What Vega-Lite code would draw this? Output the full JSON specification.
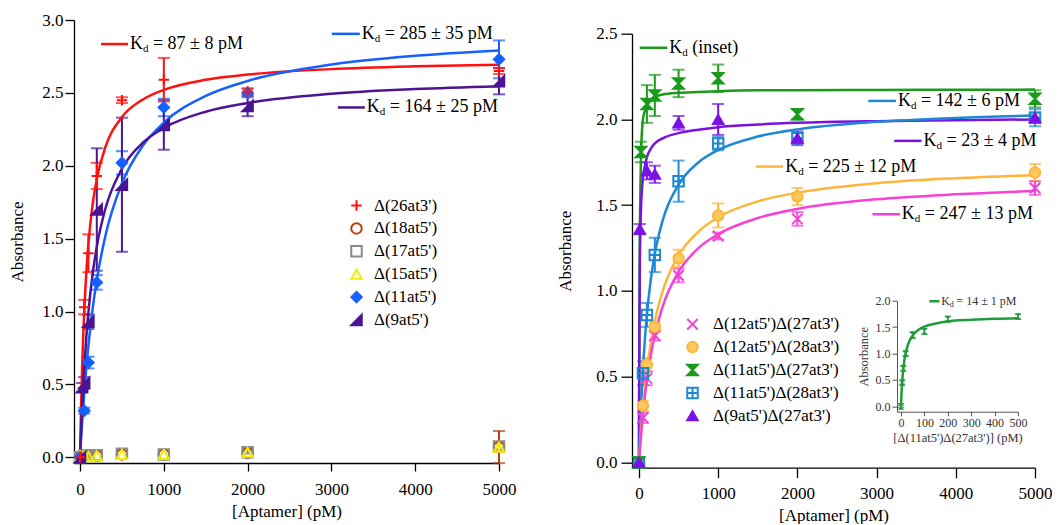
{
  "$schema": "https://vega.github.io/schema/vega-lite/v6.json",
  "padding": {"left": 8, "top": 11, "right": 0, "bottom": 0},
  "spacing": 40,
  "config": {
    "font": "Liberation Serif",
    "view": {"stroke": null},
    "axis": {"grid": false, "domainColor": "#000", "tickColor": "#000", "labelColor": "#000", "titleColor": "#000", "labelFontSize": 17, "titleFontSize": 17, "titleFontWeight": "normal", "domainWidth": 1.3, "tickWidth": 1.3, "labelFont": "Liberation Serif", "titleFont": "Liberation Serif", "labelFlush": false, "labelOverlap": false},
    "text": {"font": "Liberation Serif", "color": "#000"},
    "legend": {"labelFont": "Liberation Serif", "labelFontSize": 17, "labelColor": "#000", "symbolStrokeWidth": 2, "symbolSize": 110, "padding": 0, "labelOffset": 14, "rowPadding": 3.9}
  },
  "datasets": {
    "leftFit": [
      {"series": "Δ(26at3')", "x": 0, "y": 0}, {"series": "Δ(26at3')", "x": 10, "y": 0.282}, {"series": "Δ(26at3')", "x": 25, "y": 0.612}, {"series": "Δ(26at3')", "x": 50, "y": 1.0}, {"series": "Δ(26at3')", "x": 75, "y": 1.269}, {"series": "Δ(26at3')", "x": 100, "y": 1.465}, {"series": "Δ(26at3')", "x": 150, "y": 1.734}, {"series": "Δ(26at3')", "x": 200, "y": 1.909}, {"series": "Δ(26at3')", "x": 300, "y": 2.124}, {"series": "Δ(26at3')", "x": 500, "y": 2.334}, {"series": "Δ(26at3')", "x": 750, "y": 2.455}, {"series": "Δ(26at3')", "x": 1000, "y": 2.521}, {"series": "Δ(26at3')", "x": 1500, "y": 2.59}, {"series": "Δ(26at3')", "x": 2000, "y": 2.626}, {"series": "Δ(26at3')", "x": 3000, "y": 2.663}, {"series": "Δ(26at3')", "x": 4000, "y": 2.682}, {"series": "Δ(26at3')", "x": 5000, "y": 2.693},
      {"series": "Δ(11at5')", "x": 0, "y": 0}, {"series": "Δ(11at5')", "x": 10, "y": 0.1}, {"series": "Δ(11at5')", "x": 25, "y": 0.238}, {"series": "Δ(11at5')", "x": 50, "y": 0.44}, {"series": "Δ(11at5')", "x": 75, "y": 0.615}, {"series": "Δ(11at5')", "x": 100, "y": 0.766}, {"series": "Δ(11at5')", "x": 150, "y": 1.017}, {"series": "Δ(11at5')", "x": 200, "y": 1.216}, {"series": "Δ(11at5')", "x": 300, "y": 1.513}, {"series": "Δ(11at5')", "x": 500, "y": 1.879}, {"series": "Δ(11at5')", "x": 750, "y": 2.138}, {"series": "Δ(11at5')", "x": 1000, "y": 2.296}, {"series": "Δ(11at5')", "x": 1500, "y": 2.479}, {"series": "Δ(11at5')", "x": 2000, "y": 2.582}, {"series": "Δ(11at5')", "x": 3000, "y": 2.694}, {"series": "Δ(11at5')", "x": 4000, "y": 2.754}, {"series": "Δ(11at5')", "x": 5000, "y": 2.791},
      {"series": "Δ(9at5')", "x": 0, "y": 0}, {"series": "Δ(9at5')", "x": 10, "y": 0.151}, {"series": "Δ(9at5')", "x": 25, "y": 0.348}, {"series": "Δ(9at5')", "x": 50, "y": 0.614}, {"series": "Δ(9at5')", "x": 75, "y": 0.825}, {"series": "Δ(9at5')", "x": 100, "y": 0.996}, {"series": "Δ(9at5')", "x": 150, "y": 1.256}, {"series": "Δ(9at5')", "x": 200, "y": 1.445}, {"series": "Δ(9at5')", "x": 300, "y": 1.7}, {"series": "Δ(9at5')", "x": 500, "y": 1.98}, {"series": "Δ(9at5')", "x": 750, "y": 2.158}, {"series": "Δ(9at5')", "x": 1000, "y": 2.259}, {"series": "Δ(9at5')", "x": 1500, "y": 2.371}, {"series": "Δ(9at5')", "x": 2000, "y": 2.431}, {"series": "Δ(9at5')", "x": 3000, "y": 2.494}, {"series": "Δ(9at5')", "x": 4000, "y": 2.526}, {"series": "Δ(9at5')", "x": 5000, "y": 2.546}
    ],
    "leftPts": [
      {"series": "Δ(18at5')", "x": 0, "y": 0, "err": 0}, {"series": "Δ(18at5')", "x": 50, "y": 0.01, "err": 0}, {"series": "Δ(18at5')", "x": 100, "y": 0.01, "err": 0}, {"series": "Δ(18at5')", "x": 200, "y": 0.01, "err": 0}, {"series": "Δ(18at5')", "x": 500, "y": 0.02, "err": 0}, {"series": "Δ(18at5')", "x": 1000, "y": 0.02, "err": 0}, {"series": "Δ(18at5')", "x": 2000, "y": 0.03, "err": 0}, {"series": "Δ(18at5')", "x": 5000, "y": 0.07, "err": 0.11},
      {"series": "Δ(17at5')", "x": 0, "y": 0, "err": 0}, {"series": "Δ(17at5')", "x": 50, "y": 0.01, "err": 0}, {"series": "Δ(17at5')", "x": 100, "y": 0.015, "err": 0}, {"series": "Δ(17at5')", "x": 200, "y": 0.015, "err": 0}, {"series": "Δ(17at5')", "x": 500, "y": 0.025, "err": 0}, {"series": "Δ(17at5')", "x": 1000, "y": 0.02, "err": 0}, {"series": "Δ(17at5')", "x": 2000, "y": 0.035, "err": 0.01}, {"series": "Δ(17at5')", "x": 5000, "y": 0.075, "err": 0.02},
      {"series": "Δ(15at5')", "x": 0, "y": 0.01, "err": 0}, {"series": "Δ(15at5')", "x": 50, "y": 0.01, "err": 0}, {"series": "Δ(15at5')", "x": 100, "y": 0.005, "err": 0}, {"series": "Δ(15at5')", "x": 200, "y": 0.01, "err": 0}, {"series": "Δ(15at5')", "x": 500, "y": 0.02, "err": 0}, {"series": "Δ(15at5')", "x": 1000, "y": 0.02, "err": 0}, {"series": "Δ(15at5')", "x": 2000, "y": 0.035, "err": 0}, {"series": "Δ(15at5')", "x": 5000, "y": 0.07, "err": 0.03},
      {"series": "Δ(11at5')", "x": 0, "y": 0, "err": 0}, {"series": "Δ(11at5')", "x": 50, "y": 0.32, "err": 0.02}, {"series": "Δ(11at5')", "x": 100, "y": 0.65, "err": 0.04}, {"series": "Δ(11at5')", "x": 200, "y": 1.2, "err": 0.05}, {"series": "Δ(11at5')", "x": 500, "y": 2.02, "err": 0.08}, {"series": "Δ(11at5')", "x": 1000, "y": 2.4, "err": 0.06}, {"series": "Δ(11at5')", "x": 2000, "y": 2.5, "err": 0.03}, {"series": "Δ(11at5')", "x": 5000, "y": 2.73, "err": 0.13},
      {"series": "Δ(9at5')", "x": 0, "y": 0, "err": 0}, {"series": "Δ(9at5')", "x": 25, "y": 0.48, "err": 0.03}, {"series": "Δ(9at5')", "x": 50, "y": 0.51, "err": 0.04}, {"series": "Δ(9at5')", "x": 100, "y": 0.93, "err": 0.05}, {"series": "Δ(9at5')", "x": 200, "y": 1.7, "err": 0.42}, {"series": "Δ(9at5')", "x": 500, "y": 1.87, "err": 0.46}, {"series": "Δ(9at5')", "x": 1000, "y": 2.28, "err": 0.17}, {"series": "Δ(9at5')", "x": 2000, "y": 2.41, "err": 0.07}, {"series": "Δ(9at5')", "x": 5000, "y": 2.58, "err": 0.09},
      {"series": "Δ(26at3')", "x": 0, "y": 0, "err": 0}, {"series": "Δ(26at3')", "x": 50, "y": 1.03, "err": 0.05}, {"series": "Δ(26at3')", "x": 100, "y": 1.4, "err": 0.13}, {"series": "Δ(26at3')", "x": 200, "y": 1.93, "err": 0.09}, {"series": "Δ(26at3')", "x": 500, "y": 2.45, "err": 0.02}, {"series": "Δ(26at3')", "x": 1000, "y": 2.59, "err": 0.15}, {"series": "Δ(26at3')", "x": 2000, "y": 2.51, "err": 0.02}, {"series": "Δ(26at3')", "x": 5000, "y": 2.65, "err": 0.02}
    ],
    "leftAnn": [
      {"series": "Δ(26at3')", "x1": 250, "x2": 572, "y": 2.835, "label": "= 87 ± 8 pM"},
      {"series": "Δ(11at5')", "x1": 3005, "x2": 3339, "y": 2.905, "label": "= 285 ± 35 pM"},
      {"series": "Δ(9at5')", "x1": 3077, "x2": 3399, "y": 2.4, "label": "= 164 ± 25 pM"}
    ],
    "rightFit": [
      {"series": "Δ(11at5')Δ(27at3')", "x": 0, "y": 0}, {"series": "Δ(11at5')Δ(27at3')", "x": 5, "y": 0.8}, {"series": "Δ(11at5')Δ(27at3')", "x": 10, "y": 1.25}, {"series": "Δ(11at5')Δ(27at3')", "x": 20, "y": 1.65}, {"series": "Δ(11at5')Δ(27at3')", "x": 30, "y": 1.85}, {"series": "Δ(11at5')Δ(27at3')", "x": 50, "y": 2.0}, {"series": "Δ(11at5')Δ(27at3')", "x": 75, "y": 2.05}, {"series": "Δ(11at5')Δ(27at3')", "x": 100, "y": 2.08}, {"series": "Δ(11at5')Δ(27at3')", "x": 150, "y": 2.11}, {"series": "Δ(11at5')Δ(27at3')", "x": 200, "y": 2.13}, {"series": "Δ(11at5')Δ(27at3')", "x": 300, "y": 2.145}, {"series": "Δ(11at5')Δ(27at3')", "x": 500, "y": 2.155}, {"series": "Δ(11at5')Δ(27at3')", "x": 750, "y": 2.16}, {"series": "Δ(11at5')Δ(27at3')", "x": 1000, "y": 2.165}, {"series": "Δ(11at5')Δ(27at3')", "x": 1500, "y": 2.17}, {"series": "Δ(11at5')Δ(27at3')", "x": 2000, "y": 2.17}, {"series": "Δ(11at5')Δ(27at3')", "x": 3000, "y": 2.172}, {"series": "Δ(11at5')Δ(27at3')", "x": 4000, "y": 2.173}, {"series": "Δ(11at5')Δ(27at3')", "x": 5000, "y": 2.174},
      {"series": "Δ(9at5')Δ(27at3')", "x": 0, "y": 0}, {"series": "Δ(9at5')Δ(27at3')", "x": 5, "y": 0.7}, {"series": "Δ(9at5')Δ(27at3')", "x": 10, "y": 1.1}, {"series": "Δ(9at5')Δ(27at3')", "x": 20, "y": 1.4}, {"series": "Δ(9at5')Δ(27at3')", "x": 30, "y": 1.53}, {"series": "Δ(9at5')Δ(27at3')", "x": 50, "y": 1.66}, {"series": "Δ(9at5')Δ(27at3')", "x": 75, "y": 1.73}, {"series": "Δ(9at5')Δ(27at3')", "x": 100, "y": 1.78}, {"series": "Δ(9at5')Δ(27at3')", "x": 150, "y": 1.83}, {"series": "Δ(9at5')Δ(27at3')", "x": 200, "y": 1.86}, {"series": "Δ(9at5')Δ(27at3')", "x": 300, "y": 1.89}, {"series": "Δ(9at5')Δ(27at3')", "x": 500, "y": 1.92}, {"series": "Δ(9at5')Δ(27at3')", "x": 750, "y": 1.94}, {"series": "Δ(9at5')Δ(27at3')", "x": 1000, "y": 1.955}, {"series": "Δ(9at5')Δ(27at3')", "x": 1500, "y": 1.97}, {"series": "Δ(9at5')Δ(27at3')", "x": 2000, "y": 1.98}, {"series": "Δ(9at5')Δ(27at3')", "x": 3000, "y": 1.99}, {"series": "Δ(9at5')Δ(27at3')", "x": 4000, "y": 1.995}, {"series": "Δ(9at5')Δ(27at3')", "x": 5000, "y": 2.0},
      {"series": "Δ(11at5')Δ(28at3')", "x": 0, "y": 0}, {"series": "Δ(11at5')Δ(28at3')", "x": 5, "y": 0.071}, {"series": "Δ(11at5')Δ(28at3')", "x": 10, "y": 0.137}, {"series": "Δ(11at5')Δ(28at3')", "x": 20, "y": 0.257}, {"series": "Δ(11at5')Δ(28at3')", "x": 30, "y": 0.363}, {"series": "Δ(11at5')Δ(28at3')", "x": 50, "y": 0.542}, {"series": "Δ(11at5')Δ(28at3')", "x": 75, "y": 0.719}, {"series": "Δ(11at5')Δ(28at3')", "x": 100, "y": 0.86}, {"series": "Δ(11at5')Δ(28at3')", "x": 150, "y": 1.068}, {"series": "Δ(11at5')Δ(28at3')", "x": 200, "y": 1.216}, {"series": "Δ(11at5')Δ(28at3')", "x": 300, "y": 1.412}, {"series": "Δ(11at5')Δ(28at3')", "x": 500, "y": 1.62}, {"series": "Δ(11at5')Δ(28at3')", "x": 750, "y": 1.749}, {"series": "Δ(11at5')Δ(28at3')", "x": 1000, "y": 1.821}, {"series": "Δ(11at5')Δ(28at3')", "x": 1500, "y": 1.9}, {"series": "Δ(11at5')Δ(28at3')", "x": 2000, "y": 1.942}, {"series": "Δ(11at5')Δ(28at3')", "x": 3000, "y": 1.986}, {"series": "Δ(11at5')Δ(28at3')", "x": 4000, "y": 2.009}, {"series": "Δ(11at5')Δ(28at3')", "x": 5000, "y": 2.023},
      {"series": "Δ(12at5')Δ(28at3')", "x": 0, "y": 0}, {"series": "Δ(12at5')Δ(28at3')", "x": 5, "y": 0.038}, {"series": "Δ(12at5')Δ(28at3')", "x": 10, "y": 0.074}, {"series": "Δ(12at5')Δ(28at3')", "x": 20, "y": 0.143}, {"series": "Δ(12at5')Δ(28at3')", "x": 30, "y": 0.206}, {"series": "Δ(12at5')Δ(28at3')", "x": 50, "y": 0.318}, {"series": "Δ(12at5')Δ(28at3')", "x": 75, "y": 0.4375}, {"series": "Δ(12at5')Δ(28at3')", "x": 100, "y": 0.538}, {"series": "Δ(12at5')Δ(28at3')", "x": 150, "y": 0.7}, {"series": "Δ(12at5')Δ(28at3')", "x": 200, "y": 0.824}, {"series": "Δ(12at5')Δ(28at3')", "x": 300, "y": 1.0}, {"series": "Δ(12at5')Δ(28at3')", "x": 500, "y": 1.207}, {"series": "Δ(12at5')Δ(28at3')", "x": 750, "y": 1.346}, {"series": "Δ(12at5')Δ(28at3')", "x": 1000, "y": 1.429}, {"series": "Δ(12at5')Δ(28at3')", "x": 1500, "y": 1.522}, {"series": "Δ(12at5')Δ(28at3')", "x": 2000, "y": 1.573}, {"series": "Δ(12at5')Δ(28at3')", "x": 3000, "y": 1.628}, {"series": "Δ(12at5')Δ(28at3')", "x": 4000, "y": 1.657}, {"series": "Δ(12at5')Δ(28at3')", "x": 5000, "y": 1.675},
      {"series": "Δ(12at5')Δ(27at3')", "x": 0, "y": 0}, {"series": "Δ(12at5')Δ(27at3')", "x": 5, "y": 0.033}, {"series": "Δ(12at5')Δ(27at3')", "x": 10, "y": 0.065}, {"series": "Δ(12at5')Δ(27at3')", "x": 20, "y": 0.124}, {"series": "Δ(12at5')Δ(27at3')", "x": 30, "y": 0.18}, {"series": "Δ(12at5')Δ(27at3')", "x": 50, "y": 0.279}, {"series": "Δ(12at5')Δ(27at3')", "x": 75, "y": 0.387}, {"series": "Δ(12at5')Δ(27at3')", "x": 100, "y": 0.478}, {"series": "Δ(12at5')Δ(27at3')", "x": 150, "y": 0.627}, {"series": "Δ(12at5')Δ(27at3')", "x": 200, "y": 0.743}, {"series": "Δ(12at5')Δ(27at3')", "x": 300, "y": 0.91}, {"series": "Δ(12at5')Δ(27at3')", "x": 500, "y": 1.111}, {"series": "Δ(12at5')Δ(27at3')", "x": 750, "y": 1.249}, {"series": "Δ(12at5')Δ(27at3')", "x": 1000, "y": 1.331}, {"series": "Δ(12at5')Δ(27at3')", "x": 1500, "y": 1.425}, {"series": "Δ(12at5')Δ(27at3')", "x": 2000, "y": 1.478}, {"series": "Δ(12at5')Δ(27at3')", "x": 3000, "y": 1.534}, {"series": "Δ(12at5')Δ(27at3')", "x": 4000, "y": 1.563}, {"series": "Δ(12at5')Δ(27at3')", "x": 5000, "y": 1.582}
    ],
    "rightPts": [
      {"series": "Δ(12at5')Δ(27at3')", "x": 0, "y": 0, "err": 0}, {"series": "Δ(12at5')Δ(27at3')", "x": 50, "y": 0.26, "err": 0.03}, {"series": "Δ(12at5')Δ(27at3')", "x": 100, "y": 0.49, "err": 0.04}, {"series": "Δ(12at5')Δ(27at3')", "x": 200, "y": 0.74, "err": 0.03}, {"series": "Δ(12at5')Δ(27at3')", "x": 500, "y": 1.09, "err": 0.04}, {"series": "Δ(12at5')Δ(27at3')", "x": 1000, "y": 1.32, "err": 0.02}, {"series": "Δ(12at5')Δ(27at3')", "x": 2000, "y": 1.42, "err": 0.04}, {"series": "Δ(12at5')Δ(27at3')", "x": 5000, "y": 1.6, "err": 0.04},
      {"series": "Δ(12at5')Δ(28at3')", "x": 0, "y": 0, "err": 0}, {"series": "Δ(12at5')Δ(28at3')", "x": 50, "y": 0.33, "err": 0.03}, {"series": "Δ(12at5')Δ(28at3')", "x": 100, "y": 0.57, "err": 0.04}, {"series": "Δ(12at5')Δ(28at3')", "x": 200, "y": 0.79, "err": 0.03}, {"series": "Δ(12at5')Δ(28at3')", "x": 500, "y": 1.19, "err": 0.05}, {"series": "Δ(12at5')Δ(28at3')", "x": 1000, "y": 1.44, "err": 0.07}, {"series": "Δ(12at5')Δ(28at3')", "x": 2000, "y": 1.55, "err": 0.05}, {"series": "Δ(12at5')Δ(28at3')", "x": 5000, "y": 1.69, "err": 0.05},
      {"series": "Δ(11at5')Δ(28at3')", "x": 0, "y": 0, "err": 0}, {"series": "Δ(11at5')Δ(28at3')", "x": 50, "y": 0.52, "err": 0.07}, {"series": "Δ(11at5')Δ(28at3')", "x": 100, "y": 0.86, "err": 0.07}, {"series": "Δ(11at5')Δ(28at3')", "x": 200, "y": 1.21, "err": 0.1}, {"series": "Δ(11at5')Δ(28at3')", "x": 500, "y": 1.64, "err": 0.12}, {"series": "Δ(11at5')Δ(28at3')", "x": 1000, "y": 1.86, "err": 0.04}, {"series": "Δ(11at5')Δ(28at3')", "x": 2000, "y": 1.89, "err": 0.03}, {"series": "Δ(11at5')Δ(28at3')", "x": 5000, "y": 2.01, "err": 0.05},
      {"series": "Δ(11at5')Δ(27at3')", "x": 0, "y": 0, "err": 0}, {"series": "Δ(11at5')Δ(27at3')", "x": 25, "y": 1.81, "err": 0.06}, {"series": "Δ(11at5')Δ(27at3')", "x": 100, "y": 2.09, "err": 0.11}, {"series": "Δ(11at5')Δ(27at3')", "x": 200, "y": 2.14, "err": 0.12}, {"series": "Δ(11at5')Δ(27at3')", "x": 500, "y": 2.21, "err": 0.08}, {"series": "Δ(11at5')Δ(27at3')", "x": 1000, "y": 2.24, "err": 0.08}, {"series": "Δ(11at5')Δ(27at3')", "x": 2000, "y": 2.03, "err": 0.03}, {"series": "Δ(11at5')Δ(27at3')", "x": 5000, "y": 2.12, "err": 0.05},
      {"series": "Δ(9at5')Δ(27at3')", "x": 0, "y": 0, "err": 0}, {"series": "Δ(9at5')Δ(27at3')", "x": 10, "y": 1.36, "err": 0.03}, {"series": "Δ(9at5')Δ(27at3')", "x": 100, "y": 1.7, "err": 0.05}, {"series": "Δ(9at5')Δ(27at3')", "x": 200, "y": 1.68, "err": 0.05}, {"series": "Δ(9at5')Δ(27at3')", "x": 500, "y": 1.98, "err": 0.04}, {"series": "Δ(9at5')Δ(27at3')", "x": 1000, "y": 2.0, "err": 0.09}, {"series": "Δ(9at5')Δ(27at3')", "x": 2000, "y": 1.89, "err": 0.04}, {"series": "Δ(9at5')Δ(27at3')", "x": 5000, "y": 2.01, "err": 0.03}
    ],
    "rightAnn": [
      {"series": "Δ(11at5')Δ(27at3')", "x1": 9, "x2": 358, "y": 2.418, "label": "(inset)"},
      {"series": "Δ(11at5')Δ(28at3')", "x1": 2894, "x2": 3244, "y": 2.108, "label": "= 142 ± 6 pM"},
      {"series": "Δ(9at5')Δ(27at3')", "x1": 3222, "x2": 3568, "y": 1.875, "label": "= 23 ± 4 pM"},
      {"series": "Δ(12at5')Δ(28at3')", "x1": 1475, "x2": 1820, "y": 1.725, "label": "= 225 ± 12 pM"},
      {"series": "Δ(12at5')Δ(27at3')", "x1": 2949, "x2": 3294, "y": 1.447, "label": "= 247 ± 13 pM"}
    ],
    "insetFit": [
      {"x": 0, "y": 0}, {"x": 2, "y": 0.21}, {"x": 5, "y": 0.45}, {"x": 10, "y": 0.72}, {"x": 15, "y": 0.89}, {"x": 20, "y": 1.01}, {"x": 30, "y": 1.17}, {"x": 50, "y": 1.34}, {"x": 75, "y": 1.45}, {"x": 100, "y": 1.51}, {"x": 150, "y": 1.57}, {"x": 200, "y": 1.61}, {"x": 300, "y": 1.64}, {"x": 400, "y": 1.66}, {"x": 500, "y": 1.67}
    ],
    "insetPts": [
      {"x": 0, "y": 0, "err": 0.02}, {"x": 5, "y": 0.45, "err": 0.03}, {"x": 10, "y": 0.72, "err": 0.04}, {"x": 20, "y": 1.0, "err": 0.04}, {"x": 50, "y": 1.35, "err": 0.06}, {"x": 100, "y": 1.42, "err": 0.05}, {"x": 200, "y": 1.65, "err": 0.05}, {"x": 500, "y": 1.7, "err": 0.04}
    ],
    "insetAnn": [
      {"x1": 121, "x2": 164, "y": 1.99, "label": "= 14 ± 1 pM"}
    ]
  },
  "hconcat": [
    {
      "width": 425,
      "height": 443,
      "layer": [
        {
          "data": {"name": "leftPts"},
          "transform": [{"filter": "datum.err > 0"}],
          "mark": {"type": "errorbar", "ticks": {"size": 12}, "thickness": 2},
          "encoding": {
            "x": {"field": "x", "type": "quantitative", "title": "[Aptamer] (pM)", "scale": {"domain": [-72, 5000], "nice": false, "zero": false}, "axis": {"values": [0, 1000, 2000, 3000, 4000, 5000], "format": "d", "tickSize": 8, "labelPadding": 10, "titlePadding": 6}},
            "y": {"field": "y", "type": "quantitative", "title": "Absorbance", "scale": {"domain": [-0.039, 3.0], "nice": false, "zero": false}, "axis": {"values": [0, 0.5, 1, 1.5, 2, 2.5, 3], "format": ".1f", "tickSize": 9, "labelPadding": 2, "titlePadding": 15}},
            "yError": {"field": "err"},
            "color": {"field": "series", "type": "nominal", "legend": null, "scale": {"domain": ["Δ(9at5')", "Δ(11at5')", "Δ(15at5')", "Δ(17at5')", "Δ(18at5')", "Δ(26at3')"], "range": ["#4a1494", "#1560ff", "#f2ee00", "#8a8a8a", "#b5400f", "#ff1010"]}}
          }
        },
        {
          "data": {"name": "leftFit"},
          "mark": {"type": "line", "strokeWidth": 2.5, "interpolate": "monotone"},
          "encoding": {
            "x": {"field": "x", "type": "quantitative", "title": "[Aptamer] (pM)"},
            "y": {"field": "y", "type": "quantitative", "title": "Absorbance"},
            "color": {"field": "series", "type": "nominal", "legend": null}
          }
        },
        {
          "data": {"name": "leftPts"},
          "mark": {"type": "point", "size": 110, "strokeWidth": 2, "opacity": 1},
          "encoding": {
            "x": {"field": "x", "type": "quantitative", "title": "[Aptamer] (pM)"},
            "y": {"field": "y", "type": "quantitative", "title": "Absorbance"},
            "stroke": {"field": "series", "type": "nominal", "scale": {"domain": ["Δ(26at3')", "Δ(18at5')", "Δ(17at5')", "Δ(15at5')", "Δ(11at5')", "Δ(9at5')"], "range": ["#ff1010", "#b5400f", "#8a8a8a", "#f2ee00", "#1560ff", "#4a1494"]}, "legend": {"title": null, "orient": "none", "legendX": 274, "legendY": 177, "labelOffset": 9}},
            "fill": {"field": "series", "type": "nominal", "scale": {"domain": ["Δ(26at3')", "Δ(18at5')", "Δ(17at5')", "Δ(15at5')", "Δ(11at5')", "Δ(9at5')"], "range": ["transparent", "transparent", "transparent", "transparent", "#1560ff", "#4a1494"]}, "legend": {"title": null, "orient": "none", "legendX": 274, "legendY": 177, "labelOffset": 9}},
            "shape": {"field": "series", "type": "nominal", "scale": {"domain": ["Δ(26at3')", "Δ(18at5')", "Δ(17at5')", "Δ(15at5')", "Δ(11at5')", "Δ(9at5')"], "range": ["M-1,0L1,0M0,-1L0,1", "circle", "square", "triangle-up", "diamond", "M1,-1L1,1L-1,1Z"]}, "legend": {"title": null, "orient": "none", "legendX": 274, "legendY": 177, "labelOffset": 9}}
          }
        },
        {
          "data": {"name": "leftAnn"},
          "mark": {"type": "rule", "strokeWidth": 2.5},
          "encoding": {
            "x": {"field": "x1", "type": "quantitative", "title": "[Aptamer] (pM)"},
            "x2": {"field": "x2"},
            "y": {"field": "y", "type": "quantitative", "title": "Absorbance"},
            "color": {"field": "series", "type": "nominal", "legend": null}
          }
        },
        {
          "data": {"name": "leftAnn"},
          "mark": {"type": "text", "text": "K", "align": "left", "baseline": "middle", "dx": 2, "fontSize": 18},
          "encoding": {
            "x": {"field": "x2", "type": "quantitative", "title": "[Aptamer] (pM)"},
            "y": {"field": "y", "type": "quantitative", "title": "Absorbance"}
          }
        },
        {
          "data": {"name": "leftAnn"},
          "mark": {"type": "text", "text": "d", "align": "left", "baseline": "middle", "dx": 15, "dy": 5, "fontSize": 11},
          "encoding": {
            "x": {"field": "x2", "type": "quantitative", "title": "[Aptamer] (pM)"},
            "y": {"field": "y", "type": "quantitative", "title": "Absorbance"}
          }
        },
        {
          "data": {"name": "leftAnn"},
          "mark": {"type": "text", "align": "left", "baseline": "middle", "dx": 25, "fontSize": 18},
          "encoding": {
            "x": {"field": "x2", "type": "quantitative", "title": "[Aptamer] (pM)"},
            "y": {"field": "y", "type": "quantitative", "title": "Absorbance"},
            "text": {"field": "label"}
          }
        }
      ]
    },
    {
      "spacing": 3.7,
      "resolve": {
        "scale": {"color": "independent", "stroke": "independent", "fill": "independent", "shape": "independent"},
        "legend": {"color": "independent", "stroke": "independent", "fill": "independent", "shape": "independent"}
      },
      "vconcat": [
        {
          "width": 10,
          "height": 1,
          "data": {"values": []},
          "mark": "point"
        },
        {
          "width": 403,
          "height": 434,
          "layer": [
            {
              "layer": [
                {
                  "data": {"name": "rightPts"},
                  "transform": [{"filter": "datum.err > 0"}],
                  "mark": {"type": "errorbar", "ticks": {"size": 12}, "thickness": 2},
                  "encoding": {
                    "x": {"field": "x", "type": "quantitative", "title": "[Aptamer] (pM)", "scale": {"domain": [-88, 5000], "nice": false, "zero": false}, "axis": {"orient": "bottom", "values": [0, 1000, 2000, 3000, 4000, 5000], "format": "d", "tickSize": 10, "labelPadding": 8, "titlePadding": 6}},
                    "y": {"field": "y", "type": "quantitative", "title": "Absorbance", "scale": {"domain": [-0.031, 2.5], "nice": false, "zero": false}, "axis": {"orient": "left", "values": [0, 0.5, 1, 1.5, 2, 2.5], "format": ".1f", "tickSize": 11, "labelPadding": 4, "titlePadding": 21}},
                    "yError": {"field": "err"},
                    "color": {"field": "series", "type": "nominal", "legend": null, "scale": {"domain": ["Δ(9at5')Δ(27at3')", "Δ(11at5')Δ(28at3')", "Δ(11at5')Δ(27at3')", "Δ(12at5')Δ(28at3')", "Δ(12at5')Δ(27at3')"], "range": ["#7a12e6", "#1e88d2", "#1b9a1b", "#fdb53a", "#f442d4"]}}
                  }
                },
                {
                  "data": {"name": "rightFit"},
                  "mark": {"type": "line", "strokeWidth": 2.5, "interpolate": "monotone"},
                  "encoding": {
                    "x": {"field": "x", "type": "quantitative", "title": "[Aptamer] (pM)"},
                    "y": {"field": "y", "type": "quantitative", "title": "Absorbance"},
                    "color": {"field": "series", "type": "nominal", "legend": null}
                  }
                },
                {
                  "data": {"name": "rightPts"},
                  "mark": {"type": "point", "size": 110, "strokeWidth": 2, "opacity": 1},
                  "encoding": {
                    "x": {"field": "x", "type": "quantitative", "title": "[Aptamer] (pM)"},
                    "y": {"field": "y", "type": "quantitative", "title": "Absorbance"},
                    "stroke": {"field": "series", "type": "nominal", "scale": {"domain": ["Δ(12at5')Δ(27at3')", "Δ(12at5')Δ(28at3')", "Δ(11at5')Δ(27at3')", "Δ(11at5')Δ(28at3')", "Δ(9at5')Δ(27at3')"], "range": ["#f442d4", "#fdb53a", "#1b9a1b", "#1e88d2", "#7a12e6"]}, "legend": {"title": null, "orient": "none", "legendX": 52, "legendY": 282, "labelOffset": 12}},
                    "fill": {"field": "series", "type": "nominal", "scale": {"domain": ["Δ(12at5')Δ(27at3')", "Δ(12at5')Δ(28at3')", "Δ(11at5')Δ(27at3')", "Δ(11at5')Δ(28at3')", "Δ(9at5')Δ(27at3')"], "range": ["transparent", "#fdc860", "#1b9a1b", "transparent", "#7a12e6"]}, "legend": {"title": null, "orient": "none", "legendX": 52, "legendY": 282, "labelOffset": 12}},
                    "shape": {"field": "series", "type": "nominal", "scale": {"domain": ["Δ(12at5')Δ(27at3')", "Δ(12at5')Δ(28at3')", "Δ(11at5')Δ(27at3')", "Δ(11at5')Δ(28at3')", "Δ(9at5')Δ(27at3')"], "range": ["M-1,-1L1,1M-1,1L1,-1", "circle", "M-1,-1L1,-1L-1,1L1,1Z", "M-1,-1L1,-1L1,1L-1,1ZM0,-1L0,1M-1,0L1,0", "triangle-up"]}, "legend": {"title": null, "orient": "none", "legendX": 52, "legendY": 282, "labelOffset": 12}}
                  }
                },
                {
                  "data": {"name": "rightAnn"},
                  "mark": {"type": "rule", "strokeWidth": 2.5},
                  "encoding": {
                    "x": {"field": "x1", "type": "quantitative", "title": "[Aptamer] (pM)"},
                    "x2": {"field": "x2"},
                    "y": {"field": "y", "type": "quantitative", "title": "Absorbance"},
                    "color": {"field": "series", "type": "nominal", "legend": null}
                  }
                },
                {
                  "data": {"name": "rightAnn"},
                  "mark": {"type": "text", "text": "K", "align": "left", "baseline": "middle", "dx": 2, "fontSize": 18},
                  "encoding": {
                    "x": {"field": "x2", "type": "quantitative", "title": "[Aptamer] (pM)"},
                    "y": {"field": "y", "type": "quantitative", "title": "Absorbance"}
                  }
                },
                {
                  "data": {"name": "rightAnn"},
                  "mark": {"type": "text", "text": "d", "align": "left", "baseline": "middle", "dx": 15, "dy": 5, "fontSize": 11},
                  "encoding": {
                    "x": {"field": "x2", "type": "quantitative", "title": "[Aptamer] (pM)"},
                    "y": {"field": "y", "type": "quantitative", "title": "Absorbance"}
                  }
                },
                {
                  "data": {"name": "rightAnn"},
                  "mark": {"type": "text", "align": "left", "baseline": "middle", "dx": 25, "fontSize": 18},
                  "encoding": {
                    "x": {"field": "x2", "type": "quantitative", "title": "[Aptamer] (pM)"},
                    "y": {"field": "y", "type": "quantitative", "title": "Absorbance"},
                    "text": {"field": "label"}
                  }
                }
              ]
            },
            {
              "layer": [
                {
                  "data": {"name": "insetPts"},
                  "mark": {"type": "errorbar", "ticks": {"size": 6}, "thickness": 1.5, "color": "#1f9d3a"},
                  "encoding": {
                    "x": {"field": "x", "type": "quantitative", "title": "[Δ(11at5')Δ(27at3')] (pM)", "scale": {"domain": [-17, 500], "range": [265, 386], "nice": false, "zero": false}, "axis": {"orient": "bottom", "offset": -56, "values": [0, 100, 200, 300, 400, 500], "format": "d", "tickSize": 4, "labelPadding": 2, "titlePadding": 3, "labelFontSize": 12, "titleFontSize": 12.5, "domainColor": "#555", "tickColor": "#555", "labelColor": "#333", "titleColor": "#333", "domainWidth": 1, "tickWidth": 1}},
                    "y": {"field": "y", "type": "quantitative", "title": "Absorbance", "scale": {"domain": [-0.1, 2.0], "range": [378, 267], "nice": false, "zero": false}, "axis": {"orient": "left", "offset": -265, "values": [0, 0.5, 1, 1.5, 2], "format": ".1f", "tickSize": 5, "labelPadding": 2, "titlePadding": 5, "labelFontSize": 12, "titleFontSize": 12.5, "domainColor": "#555", "tickColor": "#555", "labelColor": "#333", "titleColor": "#333", "domainWidth": 1, "tickWidth": 1}},
                    "yError": {"field": "err"}
                  }
                },
                {
                  "data": {"name": "insetFit"},
                  "mark": {"type": "line", "strokeWidth": 2.5, "interpolate": "monotone", "color": "#1f9d3a"},
                  "encoding": {
                    "x": {"field": "x", "type": "quantitative", "title": "[Δ(11at5')Δ(27at3')] (pM)"},
                    "y": {"field": "y", "type": "quantitative", "title": "Absorbance"}
                  }
                },
                {
                  "data": {"name": "insetPts"},
                  "mark": {"type": "point", "shape": "M-1,-1L1,-1L-1,1L1,1Z", "size": 45, "filled": true, "color": "#1f9d3a", "opacity": 1},
                  "encoding": {
                    "x": {"field": "x", "type": "quantitative", "title": "[Δ(11at5')Δ(27at3')] (pM)"},
                    "y": {"field": "y", "type": "quantitative", "title": "Absorbance"}
                  }
                },
                {
                  "data": {"name": "insetAnn"},
                  "mark": {"type": "rule", "strokeWidth": 2.5, "color": "#1f9d3a"},
                  "encoding": {
                    "x": {"field": "x1", "type": "quantitative", "title": "[Δ(11at5')Δ(27at3')] (pM)"},
                    "x2": {"field": "x2"},
                    "y": {"field": "y", "type": "quantitative", "title": "Absorbance"}
                  }
                },
                {
                  "data": {"name": "insetAnn"},
                  "mark": {"type": "text", "text": "K", "align": "left", "baseline": "middle", "dx": 2, "fontSize": 12, "color": "#333"},
                  "encoding": {
                    "x": {"field": "x2", "type": "quantitative", "title": "[Δ(11at5')Δ(27at3')] (pM)"},
                    "y": {"field": "y", "type": "quantitative", "title": "Absorbance"}
                  }
                },
                {
                  "data": {"name": "insetAnn"},
                  "mark": {"type": "text", "text": "d", "align": "left", "baseline": "middle", "dx": 10.5, "dy": 3.5, "fontSize": 8, "color": "#333"},
                  "encoding": {
                    "x": {"field": "x2", "type": "quantitative", "title": "[Δ(11at5')Δ(27at3')] (pM)"},
                    "y": {"field": "y", "type": "quantitative", "title": "Absorbance"}
                  }
                },
                {
                  "data": {"name": "insetAnn"},
                  "mark": {"type": "text", "align": "left", "baseline": "middle", "dx": 17, "fontSize": 12, "color": "#333"},
                  "encoding": {
                    "x": {"field": "x2", "type": "quantitative", "title": "[Δ(11at5')Δ(27at3')] (pM)"},
                    "y": {"field": "y", "type": "quantitative", "title": "Absorbance"},
                    "text": {"field": "label"}
                  }
                }
              ]
            }
          ],
          "resolve": {"scale": {"x": "independent", "y": "independent"}, "axis": {"x": "independent", "y": "independent"}}
        }
      ]
    }
  ],
  "resolve": {
    "scale": {"color": "independent", "stroke": "independent", "fill": "independent", "shape": "independent"},
    "legend": {"color": "independent", "stroke": "independent", "fill": "independent", "shape": "independent"}
  }
}
